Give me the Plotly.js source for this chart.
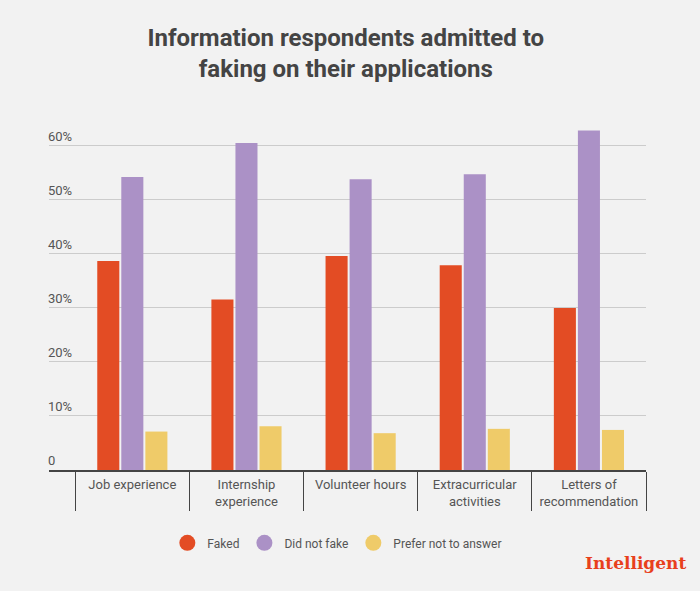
<!DOCTYPE html>
<html>
<head>
<meta charset="utf-8">
<script src="https://cdn.plot.ly/plotly-3.0.1.min.js"></script>
<style>html,body{margin:0;padding:0;background:#f2f2f2;}#chart{width:700px;height:591px;}</style>
</head>
<body>
<div id="chart"></div>
<script>
const categories = ["Job experience", "Internship<br>experience", "Volunteer hours", "Extracurricular<br>activities", "Letters of<br>recommendation"];
const faked = [38.6, 31.5, 39.5, 37.8, 29.9];
const didNotFake = [54.1, 60.4, 53.7, 54.6, 62.7];
const preferNot = [7.1, 8.1, 6.8, 7.6, 7.4];
const seriesNames = ["Faked", "Did not fake", "Prefer not to answer"];
const seriesColors = ["#e34c24", "#ab91c6", "#efcb69"];
const yTickVals = [0, 10, 20, 30, 40, 50, 60];
const yTickText = ["0", "10%", "20%", "30%", "40%", "50%", "60%"];

const values = [faked, didNotFake, preferNot];
const traces = [];
values.forEach((v, i) => {
  traces.push({
    type: "bar", x: categories, y: v, name: seriesNames[i],
    marker: {color: seriesColors[i]}, showlegend: false, hoverinfo: "x+y"
  });
});
values.forEach((v, i) => {
  traces.push({
    type: "scatter", mode: "markers", x: [null], y: [null], name: seriesNames[i],
    marker: {color: seriesColors[i], size: 16, symbol: "circle"}, showlegend: true
  });
});

const layout = {
  width: 700, height: 591,
  paper_bgcolor: "#f2f2f2", plot_bgcolor: "#f2f2f2",
  font: {family: "Roboto, sans-serif", color: "#555", size: 12},
  margin: {l: 49, r: 54, t: 118, b: 121},
  title: {
    text: "Information respondents admitted to<br>faking on their applications",
    font: {family: "Roboto, sans-serif", size: 24, color: "#444", weight: "bold"},
    x: 0.494, xanchor: "center", y: 0.9225, yanchor: "middle", yref: "container"
  },
  barmode: "group", bargap: 0.368, bargroupgap: 0.083,
  xaxis: {
    type: "category", range: [-0.73, 4.5],
    showline: true, linecolor: "#444", linewidth: 2,
    ticks: "outside", tickson: "boundaries", ticklen: 39, tickcolor: "#444", tickwidth: 1,
    ticklabelstandoff: 1,
    tickfont: {size: 13, color: "#555"}, showgrid: false, fixedrange: true
  },
  yaxis: {
    range: [0, 65], tickvals: yTickVals, ticktext: yTickText,
    ticklabelposition: "inside top", ticklabelstandoff: -4,
    showgrid: true, gridcolor: "#cccccc", gridwidth: 1,
    zeroline: false, showline: false, ticks: "",
    tickfont: {size: 13, color: "#555"}, fixedrange: true
  },
  legend: {
    orientation: "h", x: 0.483, xanchor: "center", y: -0.207, yanchor: "middle",
    font: {size: 12, color: "#555"}, bgcolor: "rgba(0,0,0,0)"
  },
  annotations: [{
    text: "<b>Intelligent</b>", xref: "paper", yref: "paper",
    x: 1.07, xanchor: "right", y: -0.265, yanchor: "middle", showarrow: false,
    font: {family: "DejaVu Serif, serif", size: 17, color: "#e8401c"}
  }]
};

Plotly.newPlot("chart", traces, layout, {displayModeBar: false, staticPlot: true});
</script>
</body>
</html>
